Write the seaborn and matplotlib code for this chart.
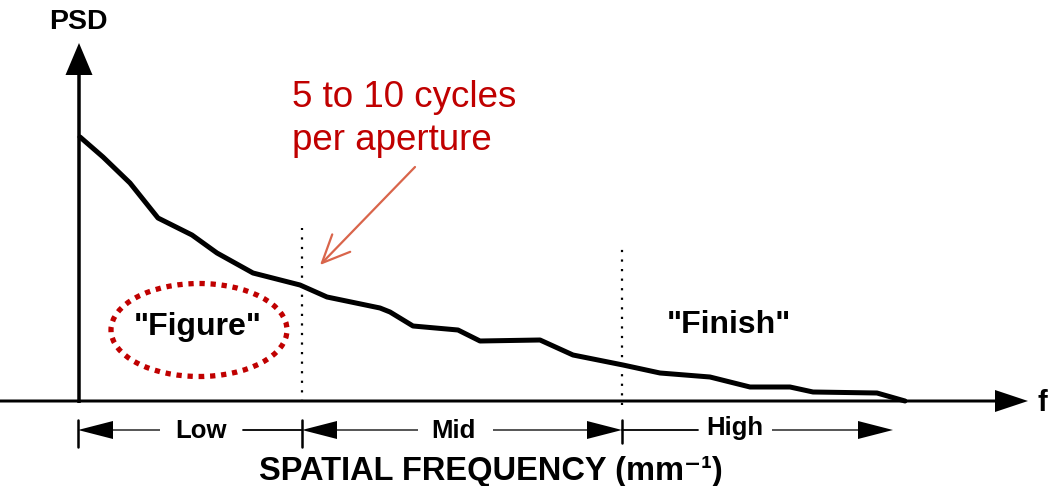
import matplotlib
matplotlib.use("Agg")
import matplotlib.pyplot as plt
from matplotlib.patches import Ellipse
import seaborn as sns
import pandas as pd

# ---- data (frequency units ~ pixels from the PSD axis, PSD units ~ pixels above f axis)
freq = [0, 23, 50, 78, 112, 137, 173, 220, 247, 300, 310, 333, 378, 400, 460, 493,
        543, 580, 630, 670, 710, 733, 797, 825]
psd = [264, 244, 218, 183, 166, 148, 128, 116, 104, 93, 89, 75, 71, 60, 61, 46,
       36, 28, 24, 14, 14, 9, 8, 0]
band_edges = [-2, 222, 542, 813]
band_labels = ["Low", "Mid", "High"]
region_labels = ['"Figure"', '"Finish"']
annotation_lines = ["5 to 10 cycles", "per aperture"]
x_label = "SPATIAL FREQUENCY (mm\u207b\u00b9)"
y_label = "PSD"

RED = "#C00000"
ARROW_RED = "#D9654B"
INK = "black"

sns.set_theme(style="white")
plt.rcParams["font.family"] = ["Liberation Sans", "DejaVu Sans"]
plt.rcParams["text.color"] = INK

fig = plt.figure(figsize=(10.51, 4.86), dpi=100)
ax = fig.add_axes([0, 0, 1, 1])
ax.set_xlim(-80, 971)
ax.set_ylim(-85, 401)
ax.axis("off")

df = pd.DataFrame({"freq": freq, "psd": psd})
sns.lineplot(data=df, x="freq", y="psd", ax=ax, color=INK, lw=3.6,
             solid_joinstyle="round", solid_capstyle="round")

# axes arrows
ax.arrow(-80, 0, 1028, 0, width=3, head_width=22, head_length=33,
         length_includes_head=True, color=INK, lw=0)
ax.arrow(-1, -2, 0, 360, width=3.5, head_width=27, head_length=32,
         length_includes_head=True, color=INK, lw=0)
ax.text(-2, 379, y_label, ha="center", va="center", fontsize=20.5, fontweight="bold")
ax.text(958, -10, "f", ha="left", va="baseline", fontsize=21, fontweight="bold")

# dotted dividers
ax.plot([band_edges[1], band_edges[1]], [-1, 173], color=INK, lw=1.6,
        linestyle=(0, (1, 3.3)))
ax.plot([band_edges[2], band_edges[2]], [-4, 158], color=INK, lw=1.6,
        linestyle=(0, (1, 3.3)))

# band ticks
yb = -29
for e, top, bot in zip(band_edges[:3], [-19, -19, -19], [-46, -46, -42]):
    ax.plot([e, e], [top, bot], color=INK, lw=1.8)

hw, hl, w = 18, 35, 1.3
# Low
ax.arrow(80, yb, band_edges[0] - 80, 0, width=w, head_width=hw, head_length=hl,
         length_includes_head=True, color=INK, lw=0)
ax.plot([163, band_edges[1]], [yb, yb], color=INK, lw=1.3)
# Mid
ax.arrow(338, yb, band_edges[1] - 338, 0, width=w, head_width=hw, head_length=hl,
         length_includes_head=True, color=INK, lw=0)
ax.arrow(413, yb, band_edges[2] - 413, 0, width=w, head_width=hw, head_length=hl,
         length_includes_head=True, color=INK, lw=0)
# High
ax.plot([band_edges[2], 618], [yb, yb], color=INK, lw=1.3)
ax.arrow(692, yb, band_edges[3] - 692, 0, width=w, head_width=hw, head_length=hl,
         length_includes_head=True, color=INK, lw=0)

for xc, yc, lab in zip([121, 373, 655], [-37, -37, -34], band_labels):
    ax.text(xc, yc, lab, ha="center", va="baseline", fontsize=18.5, fontweight="bold")

ax.text(411, -79, x_label, ha="center", va="baseline", fontsize=23.5, fontweight="bold")

# region labels
ax.text(118, 66, region_labels[0], ha="center", va="baseline", fontsize=23, fontweight="bold")
ax.text(649, 68, region_labels[1], ha="center", va="baseline", fontsize=23, fontweight="bold")

# red ellipse
ax.add_patch(Ellipse((119, 71), 176, 93, fill=False, edgecolor=RED, lw=3.8,
                     linestyle=(0, (1, 1.1))))

# red annotation
ax.text(212, 294, annotation_lines[0], ha="left", va="baseline", fontsize=26.5, color=RED)
ax.text(212, 251, annotation_lines[1], ha="left", va="baseline", fontsize=26.5, color=RED)
ax.annotate("", xy=(240, 136), xytext=(335, 234),
            arrowprops=dict(arrowstyle="->,head_length=1.0,head_width=0.45",
                            color=ARROW_RED, lw=1.6, mutation_scale=20,
                            shrinkA=0, shrinkB=0))

fig.savefig("out.png", dpi=100)
